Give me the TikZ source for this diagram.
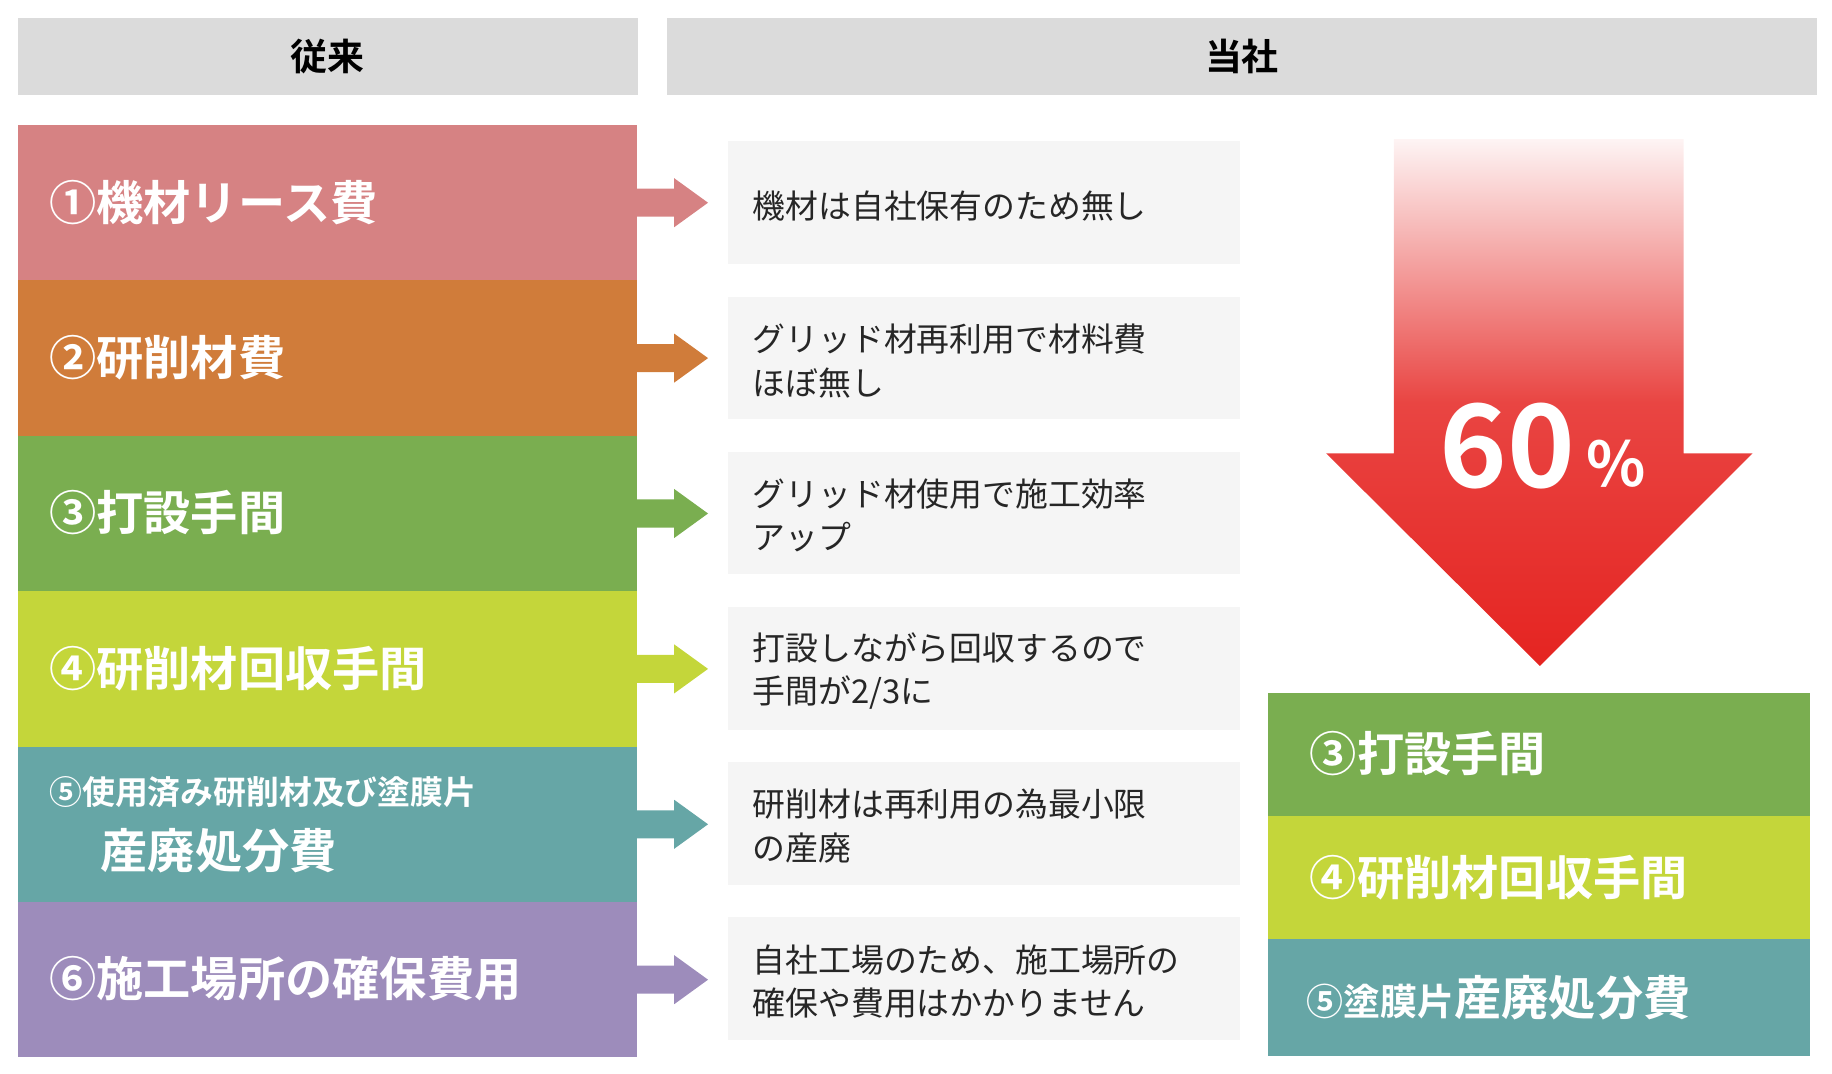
\documentclass[tikz,border=0pt]{standalone}
\usepackage{fontspec}
\setmainfont{Noto Sans CJK JP}
\newfontfamily\jpb{Noto Sans CJK JP Bold}
\begin{document}
\begin{tikzpicture}[x=0.02cm,y=-0.02cm,
  hdr/.style={fill=black!14,draw=none},
  row/.style={draw=none},
  mid/.style={fill=black!4,draw=none},
  big/.style={text=white,font=\jpb\fontsize{23}{26}\selectfont,anchor=west},
  midt/.style={anchor=west,align=left,font=\fontsize{16}{21}\selectfont,text=black!85},
  arr/.style={draw=none}]
\definecolor{c1}{HTML}{D68283}\definecolor{c2}{HTML}{D07C3A}\definecolor{c3}{HTML}{7AAE50}
\definecolor{c4}{HTML}{C4D63A}\definecolor{c5}{HTML}{66A6A6}\definecolor{c6}{HTML}{9D8CBB}
\definecolor{rd}{HTML}{E52421}
\useasboundingbox (0,0) rectangle (1568,919);
\fill[hdr] (15,15) rectangle (546,81);
\node[font=\jpb\fontsize{18}{20}\selectfont] (h1) at (280,48) {従来};
\fill[hdr] (571,15) rectangle (1555,81);
\node[font=\jpb\fontsize{18}{20}\selectfont] (h2) at (1063,48) {当社};
% rows
\foreach \i/\c in {0/c1,1/c2,2/c3,3/c4,4/c5,5/c6}{
  \pgfmathsetmacro\ya{107+133*\i}\pgfmathsetmacro\yb{\ya+133}\pgfmathsetmacro\ym{\ya+66.5}
  \fill[\c] (15,\ya) rectangle (545,\yb);
  \fill[\c] (545,\ym-12) -- (577,\ym-12) -- (577,\ym-21) -- (606,\ym) -- (577,\ym+21) -- (577,\ym+12) -- (545,\ym+12) -- cycle;
  \pgfmathsetmacro\ma{121+132.8*\i}
  \fill[mid] (623,\ma) rectangle (1061,\ma+105);
}
\node[big] (l1) at (36,173) {①機材リース費};
\node[big] (l2) at (36,306) {②研削材費};
\node[big] (l3) at (36,439) {③打設手間};
\node[big] (l4) at (36,572) {④研削材回収手間};
\node[big,font=\jpb\fontsize{16}{18}\selectfont] (l5a) at (36,678) {⑤使用済み研削材及び塗膜片};
\node[big] (l5b) at (80,728) {産廃処分費};
\node[big] (l6) at (36,838) {⑥施工場所の確保費用};
\node[midt] (m1) at (638,176) {機材は自社保有のため無し};
\node[midt] (m2) at (638,309) {グリッド材再利用で材料費\\ほぼ無し};
\node[midt] (m3) at (638,441) {グリッド材使用で施工効率\\アップ};
\node[midt] (m4) at (638,574) {打設しながら回収するので\\手間が2/3に};
\node[midt] (m5) at (638,707) {研削材は再利用の為最小限\\の産廃};
\node[midt] (m6) at (638,840) {自社工場のため、施工場所の\\確保や費用はかかりません};
% big arrow
\shade[top color=rd!5,bottom color=rd,middle color=rd!85] (1193,119) -- (1441,119) -- (1441,388) -- (1500,388) -- (1318,570) -- (1135,388) -- (1193,388) -- cycle;
\node[text=white,font=\jpb\fontsize{56}{60}\selectfont,inner sep=0] (p60) at (1290,382) {60};
\node[text=white,font=\jpb\fontsize{30}{32}\selectfont,inner sep=0] (pc) at (1383,397) {\%};
% right boxes
\fill[c3] (1085,593) rectangle (1549,698);
\fill[c4] (1085,698) rectangle (1549,804);
\fill[c5] (1085,804) rectangle (1549,904);
\node[big] (r3) at (1115,645) {③打設手間};
\node[big] (r4) at (1115,751) {④研削材回収手間};
\node[big,inner sep=0] (r5) at (1118,854) {{\fontsize{18}{20}\selectfont ⑤塗膜片}産廃処分費};
\end{tikzpicture}
\end{document}
